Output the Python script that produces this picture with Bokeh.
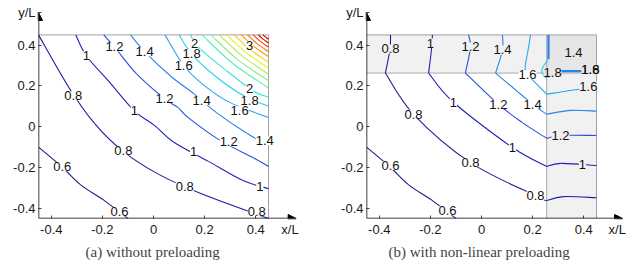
from bokeh.plotting import figure
from bokeh.layouts import row
from bokeh.models import ColumnDataSource, FixedTicker, Arrow, NormalHead, Title
from bokeh.embed import file_html
from bokeh.resources import INLINE
from bokeh.core.properties import value

# ---------------- data ----------------
ticks = [-0.4, -0.2, 0, 0.2, 0.4]
tick_labels = ["-0.4", "-0.2", "0", "0.2", "0.4"]
levels = [0.6, 0.8, 1.0, 1.2, 1.4, 1.6, 1.8, 2.0, 2.2, 2.4, 2.6, 2.8, 3.0,
          3.2, 3.4, 3.6, 3.8, 4.0]
level_colors = ["#1c1c88", "#1c1ca0", "#2020b8", "#2450dc", "#2a80ec", "#22a6ee",
                "#22cfee", "#30e6dc", "#55eeb4", "#84ee80", "#b4ee50", "#e4ee22",
                "#ffcc00", "#ff9c00", "#ff6a00", "#ff3800", "#e20000", "#b00000"]

# (a) without preloading: contour polylines (x/L, y/L)
a_06 = [(-0.45, -0.10), (-0.36, -0.195), (-0.285, -0.285), (-0.195, -0.36), (-0.10, -0.45)]
a_08 = [(-0.45, 0.45), (-0.33, 0.19), (-0.23, 0.015), (-0.12, -0.12), (0.015, -0.23), (0.19, -0.33), (0.45, -0.45)]
a_10 = [(-0.304, 0.45), (-0.263, 0.348), (-0.17, 0.215), (-0.075, 0.078), (0.005, 0.005), (0.078, -0.075), (0.215, -0.17), (0.348, -0.263), (0.45, -0.304)]
a_12 = [(-0.195, 0.45), (-0.153, 0.392), (-0.067, 0.26), (0.043, 0.137), (0.095, 0.095), (0.137, 0.043), (0.26, -0.067), (0.392, -0.153), (0.45, -0.195)]
a_14 = [(-0.09, 0.45), (-0.035, 0.368), (0.07, 0.245), (0.16, 0.16), (0.245, 0.07), (0.368, -0.035), (0.45, -0.09)]
a_16 = [(0.045, 0.45), (0.118, 0.30), (0.20, 0.20), (0.30, 0.118), (0.45, 0.045)]
a_18 = [(0.10, 0.45), (0.15, 0.355), (0.245, 0.245), (0.355, 0.15), (0.45, 0.10)]
a_20 = [(0.145, 0.45), (0.175, 0.39), (0.28, 0.28), (0.39, 0.175), (0.45, 0.145)]
a_22 = [(0.19, 0.45), (0.31, 0.31), (0.45, 0.19)]
a_24 = [(0.225, 0.45), (0.329, 0.329), (0.45, 0.225)]
a_26 = [(0.257, 0.45), (0.347, 0.347), (0.45, 0.257)]
a_28 = [(0.287, 0.45), (0.363, 0.363), (0.45, 0.287)]
a_30 = [(0.316, 0.45), (0.378, 0.378), (0.45, 0.316)]
a_32 = [(0.343, 0.45), (0.393, 0.393), (0.45, 0.343)]
a_34 = [(0.368, 0.45), (0.406, 0.406), (0.45, 0.368)]
a_36 = [(0.39, 0.45), (0.418, 0.418), (0.45, 0.39)]
a_38 = [(0.41, 0.45), (0.429, 0.429), (0.45, 0.41)]
a_40 = [(0.428, 0.45), (0.439, 0.439), (0.45, 0.428)]

a_lab_text = ["0.6", "0.6", "0.8", "0.8", "0.8", "0.8", "1", "1", "1", "1", "1.2", "1.2", "1.2",
              "1.4", "1.4", "1.4", "1.6", "1.6", "1.8", "1.8", "2", "2", "3"]
a_lab_x = [-0.357, -0.133, -0.314, -0.118, 0.122, 0.404, -0.263, -0.075, 0.157, 0.416, -0.153, 0.043, 0.294,
           -0.035, 0.188, 0.435, 0.118, 0.337, 0.149, 0.376, 0.161, 0.376, 0.376]
a_lab_y = [-0.196, -0.417, 0.152, -0.118, -0.294, -0.417, 0.348, 0.078, -0.123, -0.294, 0.392, 0.137, -0.074,
           0.368, 0.127, -0.069, 0.299, 0.078, 0.358, 0.127, 0.407, 0.186, 0.397]

# (b) with non-linear preloading: preloaded strips and contour pieces
strip_x = 0.255
strip_y = 0.263
b_06 = [(-0.45, -0.10), (-0.36, -0.195), (-0.285, -0.285), (-0.195, -0.36), (-0.10, -0.45)]
b_08_top = [(-0.356, 0.45), (-0.358, 0.381), (-0.376, 0.263)]
b_08_mid = [(-0.376, 0.263), (-0.266, 0.061), (-0.043, -0.176), (0.211, -0.338), (0.255, -0.363)]
b_08_right = [(0.255, -0.363), (0.32, -0.343), (0.45, -0.348)]
b_10_top = [(-0.192, 0.45), (-0.196, 0.376), (-0.207, 0.263)]
b_10_mid = [(-0.207, 0.263), (-0.11, 0.12), (0.121, -0.102), (0.255, -0.195)]
b_10_right = [(0.255, -0.195), (0.31, -0.18), (0.45, -0.19)]
b_12_top = [(-0.051, 0.45), (-0.043, 0.391), (-0.063, 0.263)]
b_12_mid = [(-0.063, 0.263), (0.066, 0.11), (0.16, 0.02), (0.255, -0.057)]
b_12_right = [(0.255, -0.057), (0.31, -0.043), (0.45, -0.043)]
b_14_top = [(0.082, 0.45), (0.082, 0.376), (0.055, 0.263)]
b_14_mid = [(0.055, 0.263), (0.2, 0.11), (0.255, 0.061)]
b_14_right = [(0.255, 0.061), (0.35, 0.08), (0.45, 0.076)]
b_16_top = [(0.192, 0.45), (0.18, 0.36), (0.172, 0.307), (0.17, 0.263)]
b_16_mid = [(0.17, 0.263), (0.20, 0.228), (0.255, 0.159)]
b_16_right = [(0.255, 0.159), (0.36, 0.18), (0.45, 0.19)]
b_18_loop = [(0.262, 0.332), (0.236, 0.28), (0.25, 0.243), (0.28, 0.255)]
b_14_edge_v = [(0.262, 0.45), (0.262, 0.332)]
b_14_edge_h = [(0.262, 0.272), (0.45, 0.272)]

b_lab_text = ["0.6", "0.6", "0.8", "0.8", "0.8", "0.8", "1", "1", "1", "1", "1.2", "1.2", "1.2",
              "1.4", "1.4", "1.4", "1.6", "1.6", "1.8", "1.8", "1.6"]
b_lab_x = [-0.356, -0.133, -0.356, -0.266, -0.043, 0.211, -0.2, -0.11, 0.121, 0.395, -0.043, 0.066, 0.309,
           0.082, 0.2, 0.36, 0.18, 0.418, 0.278, 0.426, 0.426]
b_lab_y = [-0.19, -0.412, 0.381, 0.061, -0.176, -0.338, 0.41, 0.12, -0.102, -0.185, 0.391, 0.11, -0.043,
           0.376, 0.11, 0.366, 0.255, 0.199, 0.268, 0.278, 0.278]

# ---------------- helpers ----------------
FONT = "Liberation Sans"


def col(lv):
    return level_colors[levels.index(lv)]


def bezier_source(lines):
    """lines: list of (level, points). Smooth curves through the read points."""
    d = {k: [] for k in ["x0", "y0", "x1", "y1", "cx0", "cy0", "cx1", "cy1", "c"]}
    for lv, pts in lines:
        n = len(pts)
        for i in range(n - 1):
            p0 = pts[i - 1] if i > 0 else pts[i]
            p1, p2 = pts[i], pts[i + 1]
            p3 = pts[i + 2] if i + 2 < n else pts[i + 1]
            if n == 2:
                c1, c2 = p1, p2
            else:
                c1 = (p1[0] + (p2[0] - p0[0]) / 6, p1[1] + (p2[1] - p0[1]) / 6)
                c2 = (p2[0] - (p3[0] - p1[0]) / 6, p2[1] - (p3[1] - p1[1]) / 6)
            d["x0"].append(p1[0]); d["y0"].append(p1[1])
            d["x1"].append(p2[0]); d["y1"].append(p2[1])
            d["cx0"].append(c1[0]); d["cy0"].append(c1[1])
            d["cx1"].append(c2[0]); d["cy1"].append(c2[1])
            d["c"].append(col(lv))
    return ColumnDataSource(d)


def make_panel(width, left_border, frame_w, caption, cap_offset, xlab_x, arrow_x):
    scale_x = 255.6
    x_end = -0.45 + frame_w / scale_x
    y_end = -0.45 + 208 / 204.0
    p = figure(width=width, height=263, x_range=(-0.45, x_end), y_range=(-0.45, y_end),
               output_backend="svg", toolbar_location=None,
               min_border_left=left_border, min_border_right=width - left_border - frame_w,
               min_border_top=10, min_border_bottom=45)
    p.outline_line_color = None
    p.grid.visible = False
    p.background_fill_color = "white"
    x_over = {t: s for t, s in zip(ticks, tick_labels)}
    x_over[xlab_x] = "x/L"
    y_over = {t: s for t, s in zip(ticks, tick_labels)}
    y_over[0.56] = "y/L"
    p.xaxis.ticker = FixedTicker(ticks=ticks + [xlab_x])
    p.xaxis.major_label_overrides = x_over
    p.yaxis.ticker = FixedTicker(ticks=ticks + [0.56])
    p.yaxis.major_label_overrides = y_over
    for ax in (p.xaxis, p.yaxis):
        ax.axis_line_color = None
        ax.major_tick_in = 3
        ax.major_tick_out = 0
        ax.major_tick_line_color = "#444444"
        ax.minor_tick_line_color = None
        ax.major_label_text_font = FONT
        ax.major_label_text_font_size = "13px"
        ax.major_label_text_color = "#1a1a1a"
        ax.major_label_standoff = 3
    p.add_layout(Arrow(end=NormalHead(size=8, fill_color="black", line_color="black"),
                       x_start=-0.45, y_start=-0.45, x_end=arrow_x, y_end=-0.45,
                       line_color="black", line_width=1.5))
    p.add_layout(Arrow(end=NormalHead(size=8, fill_color="black", line_color="black"),
                       x_start=-0.45, y_start=-0.45, x_end=-0.45, y_end=0.56,
                       line_color="black", line_width=1.5))
    p.add_layout(Title(text=caption, align="left", offset=cap_offset, text_font="Liberation Serif",
                       text_font_size="15px", text_font_style="normal", standoff=4), "below")
    return p


def frame_box(p):
    p.line([-0.45, 0.45, 0.45], [0.45, 0.45, -0.45], line_color="#a0a0a0", line_width=1)


def labels(p, xs, ys, texts, bgs, alphas):
    src = ColumnDataSource(dict(x=xs, y=ys, t=texts, bg=bgs, a=alphas))
    p.text(x="x", y="y", text="t", source=src, text_font=value(FONT), text_font_size="13px",
           text_align="center", text_baseline="middle", text_color="#111111",
           background_fill_color="bg", background_fill_alpha="a", padding=0)


# ---------------- panel (a) ----------------
pa = make_panel(313, 38, 262, "(a) without preloading", 47, 0.534, 0.558)
frame_box(pa)
a_lines = [(0.6, a_06), (0.8, a_08), (1.0, a_10), (1.2, a_12), (1.4, a_14), (1.6, a_16),
           (1.8, a_18), (2.0, a_20), (2.2, a_22), (2.4, a_24), (2.6, a_26), (2.8, a_28),
           (3.0, a_30), (3.2, a_32), (3.4, a_34), (3.6, a_36), (3.8, a_38), (4.0, a_40)]
pa.bezier(x0="x0", y0="y0", x1="x1", y1="y1", cx0="cx0", cy0="cy0", cx1="cx1", cy1="cy1",
          source=bezier_source(a_lines), line_color="c", line_width=1.1)
labels(pa, a_lab_x, a_lab_y, a_lab_text, ["white"] * len(a_lab_text), [1.0] * len(a_lab_text))

# ---------------- panel (b) ----------------
pb = make_panel(314, 53, 259, "(b) with non-linear preloading", 22, 0.531, 0.552)
LIGHT = "#f1f1f1"
DARK = "#e6e6e6"
pb.quad(left=[-0.45, strip_x, strip_x], right=[strip_x, 0.45, 0.45],
        bottom=[strip_y, -0.45, strip_y], top=[0.45, strip_y, 0.45],
        fill_color=[LIGHT, LIGHT, DARK], line_color=None)
pb.line([-0.45, 0.45], [strip_y, strip_y], line_color="#a8a8a8", line_width=1)
pb.line([strip_x, strip_x], [-0.45, 0.45], line_color="#a8a8a8", line_width=1)
frame_box(pb)
b_lines = [(0.6, b_06), (0.8, b_08_top), (0.8, b_08_mid), (0.8, b_08_right),
           (1.0, b_10_top), (1.0, b_10_mid), (1.0, b_10_right),
           (1.2, b_12_top), (1.2, b_12_mid), (1.2, b_12_right),
           (1.4, b_14_top), (1.4, b_14_mid), (1.4, b_14_right),
           (1.6, b_16_top), (1.6, b_16_mid), (1.6, b_16_right),
           (1.8, b_18_loop)]
pb.bezier(x0="x0", y0="y0", x1="x1", y1="y1", cx0="cx0", cy0="cy0", cx1="cx1", cy1="cy1",
          source=bezier_source(b_lines), line_color="c", line_width=1.1)
pb.bezier(x0="x0", y0="y0", x1="x1", y1="y1", cx0="cx0", cy0="cy0", cx1="cx1", cy1="cy1",
          source=bezier_source([(1.4, b_14_edge_v), (1.4, b_14_edge_h)]), line_color="c", line_width=2.2)


def region_bg(x, y):
    if x >= strip_x and y >= strip_y:
        return DARK
    if x >= strip_x or y >= strip_y:
        return LIGHT
    return "white"


b_bg = [region_bg(x, y) for x, y in zip(b_lab_x, b_lab_y)]
b_alpha = [1.0] * len(b_lab_text)
b_alpha[-1] = 0.0
labels(pb, b_lab_x, b_lab_y, b_lab_text, b_bg, b_alpha)

layout = row(pa, pb)
html = file_html(layout, INLINE)
open("out.html", "w").write(html)
